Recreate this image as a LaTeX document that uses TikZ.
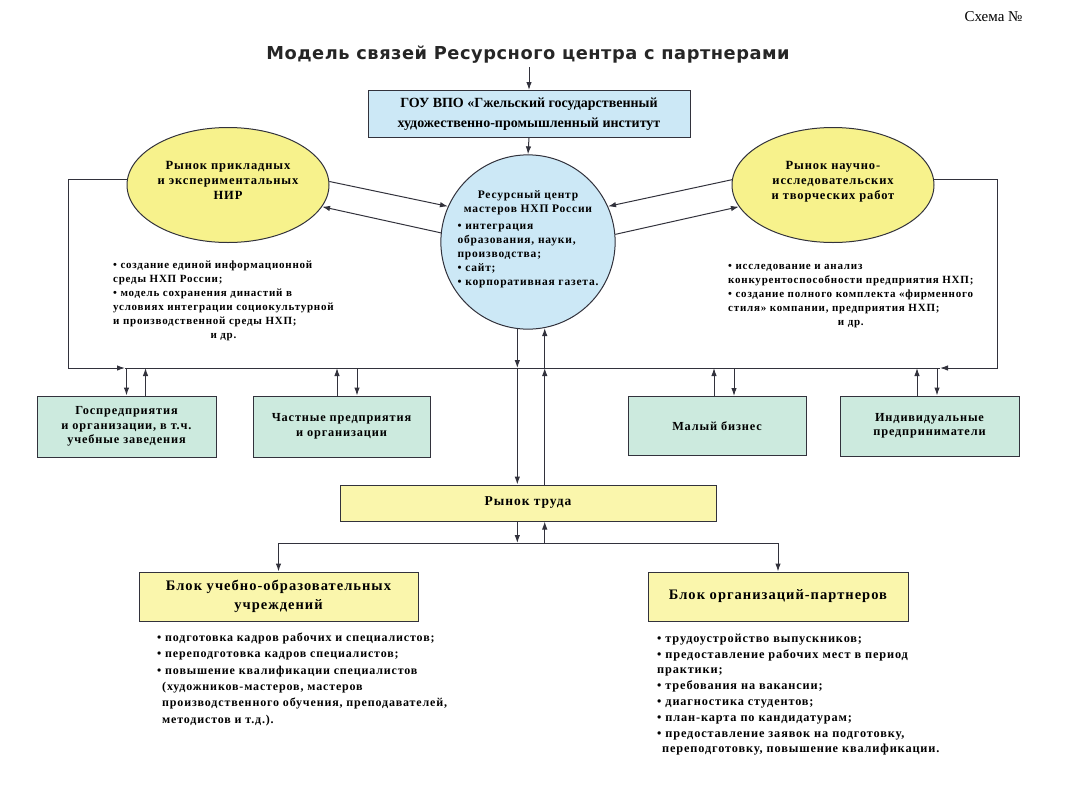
\documentclass[tikz,border=0pt]{standalone}
\usepackage{fontspec}
\setmainfont{Liberation Serif}
\newfontfamily\titlefont[LetterSpace=3]{DejaVu Sans}
\newfontfamily\widefont[LetterSpace=7]{Liberation Serif}
\usetikzlibrary{arrows.meta,positioning,shapes.geometric}
\definecolor{lineC}{RGB}{50,50,60}
\definecolor{blueF}{RGB}{204,232,246}
\definecolor{ellF}{RGB}{247,242,140}
\definecolor{mintF}{RGB}{204,234,222}
\definecolor{paleF}{RGB}{250,246,172}

\newcommand{\ellfont}{\widefont\bfseries\fontsize{12.5}{15}\selectfont}
\newcommand{\bodyfont}{\widefont\bfseries\fontsize{11}{14}\selectfont}
\newcommand{\listfont}{\widefont\bfseries\fontsize{12}{16.3}\selectfont}

\tikzset{
  arr/.style={draw=lineC, line width=1pt, -{Latex[length=8pt,width=5.5pt]}},
  ln/.style={draw=lineC, line width=1pt},
  boxbase/.style={draw=lineC, line width=1pt, inner sep=2pt, align=center},
  bluebox/.style={boxbase, fill=blueF, font=\bfseries\fontsize{14}{20}\selectfont},
  mintbox/.style={boxbase, fill=mintF, font=\widefont\bfseries\fontsize{12.3}{14.5}\selectfont},
  palebox/.style={boxbase, fill=paleF, font=\widefont\bfseries\fontsize{14.5}{19}\selectfont},
  market/.style={ellipse, draw=lineC, line width=1pt, fill=ellF, inner sep=0pt,
    minimum width=202pt, minimum height=115pt, align=center, font=\ellfont},
  notes/.style={anchor=north west, inner sep=0pt},
}

\begin{document}
\begin{tikzpicture}[x=1pt,y=-1pt]
  \useasboundingbox (0,0) rectangle (1074,785);
  % heading
  \node[anchor=east, font=\fontsize{15}{17}\selectfont] (scheme) at (1026,17) {Схема №};
  \node[font=\titlefont\bfseries\fontsize{17.8}{20}\selectfont, text=black!85] (title) at (528,55) {Модель связей Ресурсного центра с партнерами};

  % institute and the centre
  \node[bluebox, minimum width=322pt, minimum height=47pt] (gou) at (529,114)
    {ГОУ ВПО «Гжельский государственный\\художественно-промышленный институт};
  \node[circle, draw=lineC, line width=1pt, fill=blueF, minimum size=168pt, inner sep=0pt,
        align=center, font=\widefont\bfseries\fontsize{11.5}{14}\selectfont] (rc) at (528,242)
    {Ресурсный центр\\мастеров НХП России\\[4pt]
     \begin{tabular}{@{}l@{}}• интеграция\\образования, науки,\\производства;\\• сайт;\\• корпоративная газета.\end{tabular}\\[2pt]\mbox{}};

  % markets
  \node[market] (lell) at (228,185) {Рынок прикладных\\и экспериментальных\\НИР\\[-5pt]\mbox{}};
  \node[market] (rell) at (833,185) {Рынок научно-\\исследовательских\\и творческих работ\\[-5pt]\mbox{}};

  \node[notes, font=\bodyfont] (lnote) at (113,258)
    {\begin{tabular}{@{}l@{}}• создание единой информационной\\среды НХП России;\\• модель сохранения династий в\\
     условиях интеграции социокультурной\\и производственной среды НХП;\\\multicolumn{1}{@{}c@{}}{и др.}\end{tabular}};
  \node[notes, font=\bodyfont] (rnote) at (728,259)
    {\begin{tabular}{@{}l@{}}• исследование и анализ\\конкурентоспособности предприятия НХП;\\• создание полного комплекта «фирменного\\
     стиля» компании, предприятия НХП;\\\multicolumn{1}{@{}c@{}}{и др.}\end{tabular}};

  % partners
  \node[mintbox, minimum width=179pt, minimum height=61pt] (gos) at (126.5,426.5)
    {Госпредприятия\\и организации, в т.ч.\\учебные заведения};
  \node[mintbox, minimum width=177pt, minimum height=61pt] (chast) at (341.5,426.5)
    {Частные предприятия\\и организации};
  \node[mintbox, minimum width=178pt, minimum height=59pt] (maly) at (717,426)
    {Малый бизнес};
  \node[mintbox, minimum width=179pt, minimum height=60pt] (indiv) at (929.5,426)
    {Индивидуальные\\предприниматели};

  % labour market and blocks
  \node[palebox, minimum width=376pt, minimum height=36pt, font=\widefont\bfseries\fontsize{13.5}{15}\selectfont] (trud) at (528,503) {Рынок труда};
  \node[palebox, minimum width=279pt, minimum height=49pt] (blk1) at (278.5,596.5)
    {Блок учебно-образовательных\\учреждений};
  \node[palebox, minimum width=260pt, minimum height=49pt] (blk2) at (778,596.5)
    {Блок организаций-партнеров};

  \node[notes, font=\listfont] (l1note) at (157,630)
    {\begin{tabular}{@{}l@{}}• подготовка кадров рабочих и специалистов;\\• переподготовка кадров специалистов;\\
     • повышение квалификации специалистов\\\hspace*{5pt}(художников-мастеров, мастеров\\
     \hspace*{5pt}производственного обучения, преподавателей,\\\hspace*{5pt}методистов и т.д.).\end{tabular}};
  \node[notes, font=\widefont\bfseries\fontsize{12.3}{15.8}\selectfont] (l2note) at (657,631)
    {\begin{tabular}{@{}l@{}}• трудоустройство выпускников;\\• предоставление рабочих мест в период\\практики;\\
     • требования на вакансии;\\• диагностика студентов;\\• план-карта по кандидатурам;\\
     • предоставление заявок на подготовку,\\\hspace*{5pt}переподготовку, повышение квалификации.\end{tabular}};

  % bus coordinates
  \coordinate (busL) at (125,368);
  \coordinate (busR) at (940,368);
  \coordinate (lfb) at (68,368);
  \coordinate (rfb) at (997,368);
  \coordinate (bus2) at (528,543);

  % top connectors
  \draw[arr] (gou.north |- title.south) -- (gou.north);
  \draw[arr] (gou.south) -- (rc.north);
  \draw[arr] (lell.2) -- (rc.156);
  \draw[arr] (rc.174) -- (lell.-13);
  \draw[arr] (rell.177) -- (rc.24);
  \draw[arr] (rc.5) -- (rell.-167);

  % feedback and bus
  \draw[arr] (lell.177) -| (lfb) -- (busL);
  \draw[arr] (rell.3) -| (rfb) -- (busR);
  \draw[ln] (busL) -- (busR);

  \draw[arr] (gos.north |- busL) -- (gos.north);
  \draw[arr] ([xshift=19pt]gos.north) -- ([xshift=19pt]gos.north |- busL);
  \draw[arr] ([xshift=-4.5pt]chast.north) -- ([xshift=-4.5pt]chast.north |- busL);
  \draw[arr] ([xshift=15.5pt]chast.north |- busL) -- ([xshift=15.5pt]chast.north);
  \draw[arr] ([xshift=-3pt]maly.north) -- ([xshift=-3pt]maly.north |- busL);
  \draw[arr] ([xshift=17pt]maly.north |- busL) -- ([xshift=17pt]maly.north);
  \draw[arr] ([xshift=-12.5pt]indiv.north) -- ([xshift=-12.5pt]indiv.north |- busL);
  \draw[arr] ([xshift=7.5pt]indiv.north |- busL) -- ([xshift=7.5pt]indiv.north);

  % centre to labour market
  \draw[arr] (rc.263) -- (rc.263 |- busL);
  \draw[arr] (rc.263 |- busL) -- (rc.263 |- trud.north);
  \draw[arr] (rc.281 |- trud.north) -- (rc.281 |- busL);
  \draw[arr] (rc.281 |- busL) -- (rc.281);

  % labour market to blocks
  \draw[arr] (rc.263 |- trud.south) -- (rc.263 |- bus2);
  \draw[arr] (rc.281 |- bus2) -- (rc.281 |- trud.south);
  \draw[ln] (blk1.north |- bus2) -- (blk2.north |- bus2);
  \draw[arr] (blk1.north |- bus2) -- (blk1.north);
  \draw[arr] (blk2.north |- bus2) -- (blk2.north);
\end{tikzpicture}
\end{document}
